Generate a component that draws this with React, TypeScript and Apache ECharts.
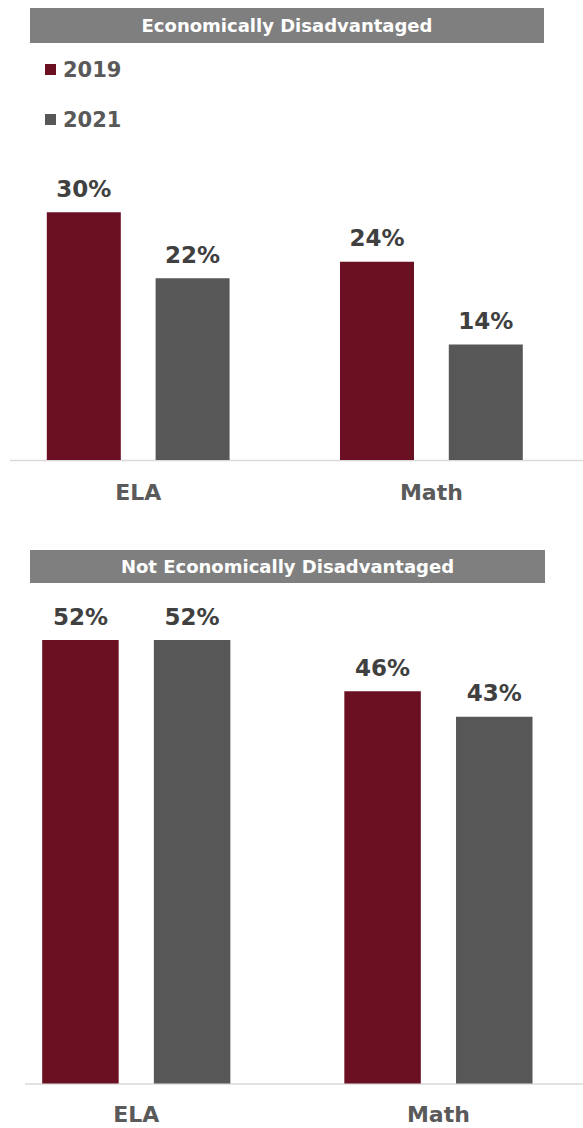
import React, { useEffect, useRef } from "react";
import * as echarts from "echarts";

const categories = ["ELA", "Math"];
const seriesNames = ["2019", "2021"];
const econDis2019 = [30, 24];
const econDis2021 = [22, 14];
const notEconDis2019 = [52, 46];
const notEconDis2021 = [52, 43];
const titles = ["Economically Disadvantaged", "Not Economically Disadvantaged"];

const C2019 = "#6a1022";
const C2021 = "#575757";
const FONT = "'DejaVu Sans', sans-serif";

export default function App() {
  const ref = useRef<HTMLDivElement>(null);
  useEffect(() => {
    document.body.style.margin = "0";
    const chart = echarts.init(ref.current!, null, { renderer: "svg" });
    const valueLabel = {
      show: true,
      position: "top",
      distance: 12,
      formatter: "{c}%",
      color: "#404040",
      fontSize: 23,
      fontWeight: "bold",
      fontFamily: FONT,
    };
    const xAxisBase = (gridIndex: number, margin: number) => ({
      type: "category",
      gridIndex,
      data: categories,
      axisLine: { show: false },
      axisTick: { show: false },
      axisLabel: { margin, fontSize: 22, fontWeight: "bold", color: "#5a5a5a", fontFamily: FONT },
    });
    const yAxisBase = (gridIndex: number, max: number) => ({
      type: "value",
      gridIndex,
      min: 0,
      max,
      show: false,
      splitLine: { show: false },
    });
    chart.setOption({
      animation: false,
      textStyle: { fontFamily: FONT },
      grid: [
        { left: -8.4, width: 586.4, top: 212.3, height: 247.7, outerBoundsMode: "none", containLabel: false },
        { left: -14.8, width: 604.3, top: 640, height: 443.6, outerBoundsMode: "none", containLabel: false },
      ],
      legend: {
        data: seriesNames,
        orient: "vertical",
        left: 45,
        top: 59,
        padding: 0,
        icon: "rect",
        itemWidth: 11,
        itemHeight: 11,
        itemGap: 29,
        textStyle: { fontSize: 21, fontWeight: "bold", color: "#595959", fontFamily: FONT, padding: [0, 0, 0, 2] },
      },
      xAxis: [xAxisBase(0, 21), xAxisBase(1, 20)],
      yAxis: [yAxisBase(0, 30), yAxisBase(1, 52)],
      series: [
        { name: seriesNames[0], type: "bar", xAxisIndex: 0, yAxisIndex: 0, data: econDis2019, barWidth: 74, barGap: "47%", itemStyle: { color: C2019 }, label: valueLabel },
        { name: seriesNames[1], type: "bar", xAxisIndex: 0, yAxisIndex: 0, data: econDis2021, barWidth: 74, barGap: "47%", itemStyle: { color: C2021 }, label: valueLabel },
        { name: seriesNames[0], type: "bar", xAxisIndex: 1, yAxisIndex: 1, data: notEconDis2019, barWidth: 76.5, barGap: "46%", itemStyle: { color: C2019 }, label: valueLabel },
        { name: seriesNames[1], type: "bar", xAxisIndex: 1, yAxisIndex: 1, data: notEconDis2021, barWidth: 76.5, barGap: "46%", itemStyle: { color: C2021 }, label: valueLabel },
      ],
      graphic: [
        { type: "rect", shape: { x: 30, y: 8, width: 514, height: 35 }, style: { fill: "#7f7f7f" } },
        { type: "text", x: 287, y: 25.5, style: { text: titles[0], fill: "#ffffff", fontSize: 18, fontWeight: "bold", fontFamily: FONT, align: "center", verticalAlign: "middle" } },
        { type: "rect", shape: { x: 30, y: 550, width: 515, height: 33 }, style: { fill: "#7f7f7f" } },
        { type: "text", x: 287.5, y: 566.5, style: { text: titles[1], fill: "#ffffff", fontSize: 18, fontWeight: "bold", fontFamily: FONT, align: "center", verticalAlign: "middle" } },
        { type: "line", shape: { x1: 10, y1: 460.5, x2: 583, y2: 460.5 }, style: { stroke: "#d9d9d9", lineWidth: 1.5 } },
        { type: "line", shape: { x1: 25, y1: 1084, x2: 583, y2: 1084 }, style: { stroke: "#d9d9d9", lineWidth: 1.5 } },
      ],
    });
    return () => chart.dispose();
  }, []);
  return <div ref={ref} style={{ position: "absolute", left: 0, top: 0, width: 583, height: 1128 }} />;
}
